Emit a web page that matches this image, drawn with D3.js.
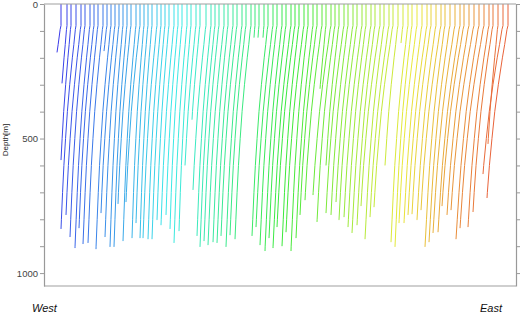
<!DOCTYPE html>
<html>
<head>
<meta charset="utf-8">
<script src="https://cdn.jsdelivr.net/npm/d3@7"></script>
<style>
  body { margin: 0; background: #fff; }
  text { font-family: "Liberation Sans", Arial, sans-serif; }
</style>
</head>
<body>
<svg id="chart" width="520" height="314"></svg>
<script>
// station position along the section (km), surface end of each profile
const topKm = [17, 23, 27, 32, 37, 41, 46, 50, 54, 59, 63, 67, 71, 75, 79, 83, 87, 92, 96, 100,
  104, 108, 113, 117, 121, 125, 130, 134, 138, 143, 147, 152, 156, 162, 167, 171, 175, 180, 184, 189,
  193, 198, 202, 207, 211, 215, 220, 224, 229, 233, 238, 242, 247, 251, 255, 260, 264, 269, 273, 278,
  282, 287, 291, 295, 300, 304, 309, 313, 318, 322, 327, 331, 336, 340, 345, 349, 354, 359, 364, 368,
  373, 378, 383, 387, 392, 397, 401, 406, 411, 416, 420, 425, 430, 435, 440, 445, 449, 454, 459, 464];
// deepest sample of each profile (m)
const bottomDepth = [180, 295, 580, 836, 784, 866, 907, 833, 892, 888, 175, 911, 777, 866, 903, 903, 743, 881, 736, 870,
  814, 870, 870, 874, 874, 803, 822, 784, 836, 888, 844, 600, 430, 691, 862, 903, 881, 896, 885, 888,
  862, 903, 859, 874, 125, 125, 125, 862, 829, 896, 918, 870, 907, 829, 900, 848, 918, 870, 784, 729,
  315, 710, 810, 600, 777, 784, 736, 803, 792, 829, 851, 822, 751, 874, 792, 755, 600, 145, 885, 903,
  814, 814, 784, 781, 803, 766, 903, 885, 851, 848, 751, 784, 766, 874, 833, 829, 773, 520, 632, 721];
// where the profile line ends on the section (km)
const bottomKm = [13, 18, 17, 17, 22, 26, 31, 35, 39, 44, 60, 52, 57, 61, 66, 70, 74, 79, 82, 88,
  92, 96, 99, 104, 108, 113, 117, 122, 126, 130, 135, 141, 148, 149, 153, 156, 160, 164, 169, 173,
  177, 182, 186, 191, 210, 214, 219, 208, 212, 216, 221, 225, 229, 233, 238, 242, 247, 252, 256, 261,
  276, 269, 273, 282, 282, 287, 292, 295, 300, 304, 308, 313, 317, 321, 326, 330, 341, 357, 347, 351,
  355, 360, 364, 368, 373, 377, 381, 385, 389, 394, 398, 403, 407, 412, 416, 424, 429, 444, 439, 443];

const depthTicks = [0, 100, 200, 300, 400, 500, 600, 700, 800, 900, 1000];
const depthLabels = [0, 500, 1000];

// common profile shape: share of the total lateral drift reached at each depth
const shapeDepth = [0, 80, 95, 150, 200, 300, 400, 500, 600, 700, 800, 900, 1000];
const shapeFrac = [0, 0, 0.04, 0.13, 0.22, 0.38, 0.52, 0.63, 0.73, 0.81, 0.88, 0.95, 1];

const svg = d3.select('#chart');

const x = d3.scaleLinear().domain([0, 472]).range([44, 516]);
const y = d3.scaleLinear().domain([0, 1048]).range([4, 286]);
const hue = d3.scaleLinear().domain([17, 464]).range([240, 14]);
const frac = d3.scaleLinear().domain(shapeDepth).range(shapeFrac).clamp(true);

const stations = topKm.map(function(t, i) {
  return {top: t, depth: bottomDepth[i], bottom: bottomKm[i]};
});

function profilePoints(s) {
  const drift = s.top - s.bottom;
  const fEnd = frac(s.depth);
  const zs = shapeDepth.filter(function(z) { return z < s.depth; }).concat([s.depth]);
  return zs.map(function(z) {
    const off = fEnd > 0 ? drift * frac(z) / fEnd : 0;
    return [s.top - off, z];
  });
}

const line = d3.line()
  .x(function(d) { return x(d[0]); })
  .y(function(d) { return y(d[1]); });

svg.append('g')
  .attr('class', 'profiles')
  .selectAll('path')
  .data(stations)
  .enter()
  .append('path')
  .attr('d', function(d) { return line(profilePoints(d)); })
  .attr('fill', 'none')
  .attr('stroke', function(d) { return d3.hsl(hue(d.top), 0.8, 0.57).formatHex(); })
  .attr('stroke-width', 1);

// frame
const frame = svg.append('g').attr('stroke', '#a0a0a0').attr('stroke-width', 1.2);
frame.append('line').attr('x1', x(0)).attr('x2', x(472)).attr('y1', y(0)).attr('y2', y(0));
frame.append('line').attr('x1', x(0)).attr('x2', x(472)).attr('y1', y(1048)).attr('y2', y(1048));

const left = svg.append('g')
  .attr('transform', 'translate(' + x(0) + ',0)')
  .call(d3.axisLeft(y)
    .tickValues(depthTicks)
    .tickSize(4)
    .tickSizeOuter(0)
    .tickPadding(2)
    .tickFormat(function(d) { return depthLabels.indexOf(d) >= 0 ? d : ''; }));

const right = svg.append('g')
  .attr('transform', 'translate(' + x(472) + ',0)')
  .call(d3.axisRight(y)
    .tickValues(depthTicks)
    .tickSize(4)
    .tickSizeOuter(0)
    .tickFormat(''));

[left, right].forEach(function(g) {
  g.select('.domain').attr('stroke', '#999').attr('stroke-width', 1.2);
  g.selectAll('.tick line').attr('stroke', '#999');
  g.selectAll('.tick text')
    .attr('fill', '#444')
    .style('font-size', '9.5px')
    .style('font-family', '"Liberation Sans", Arial, sans-serif');
});

svg.append('text')
  .attr('transform', 'translate(8,140) rotate(-90)')
  .attr('text-anchor', 'middle')
  .style('font-size', '8px')
  .attr('fill', '#222')
  .text('Depth[m]');

svg.append('text')
  .attr('x', 32)
  .attr('y', 312)
  .style('font-size', '11px')
  .style('font-style', 'italic')
  .attr('fill', '#111')
  .text('West');

svg.append('text')
  .attr('x', 480)
  .attr('y', 312)
  .style('font-size', '11px')
  .style('font-style', 'italic')
  .attr('fill', '#111')
  .text('East');
</script>
</body>
</html>
